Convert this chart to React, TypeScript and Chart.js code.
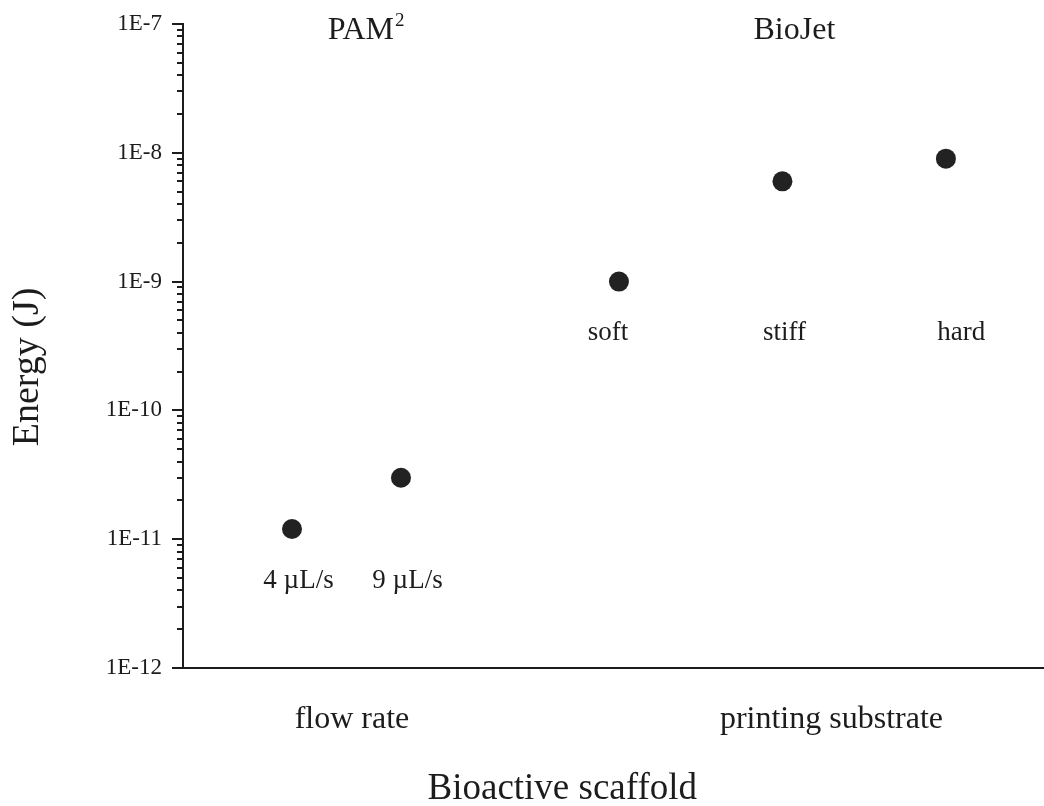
import React, { useEffect, useRef } from "react";
import { Chart, registerables } from "chart.js";

Chart.register(...registerables);

// ---- data ----
const pointNames = ["4 µL/s", "9 µL/s", "soft", "stiff", "hard"];
const pointX = [1, 2, 4, 5.5, 7];
const energyJ = [1.2e-11, 3e-11, 1e-9, 6e-9, 9e-9];
const pointLabelX = [1.06, 2.06, 3.9, 5.52, 7.14];
const pointLabelY = [4.2e-12, 4.2e-12, 3.5e-10, 3.5e-10, 3.5e-10];

const groupNames = ["PAM", "BioJet"];
const groupSup = ["2", ""];
const groupX = [1.68, 5.61];
const groupY = [7.6e-8, 7.6e-8];

const categoryNames = ["flow rate", "printing substrate"];
const categoryX = [1.55, 5.95];

const xTitle = "Bioactive scaffold";
const yTitle = "Energy (J)";
const yMinExp = -12;
const yMaxExp = -7;
const minorMantissas = [1, 2, 3, 4, 5, 6, 7, 8, 9];

const FONT = "'Liberation Serif', 'Times New Roman', serif";
const INK = "#1c1c1c";

const annotationPlugin = {
  id: "annotations",
  afterDraw(chart: any) {
    const { ctx, chartArea } = chart;
    const x = chart.scales.x;
    const y = chart.scales.y;
    ctx.save();

    // minor ticks
    ctx.strokeStyle = INK;
    ctx.lineWidth = 2;
    y.ticks.forEach((t: any) => {
      if (!t.major) {
        const py = Math.round(y.getPixelForValue(t.value));
        ctx.beginPath();
        ctx.moveTo(chartArea.left - 6, py);
        ctx.lineTo(chartArea.left, py);
        ctx.stroke();
      }
    });

    ctx.fillStyle = INK;
    ctx.textBaseline = "alphabetic";

    // point labels
    ctx.font = `27px ${FONT}`;
    ctx.textAlign = "center";
    pointNames.forEach((n, i) => {
      ctx.fillText(n, x.getPixelForValue(pointLabelX[i]), y.getPixelForValue(pointLabelY[i]));
    });

    // group titles
    groupNames.forEach((n, i) => {
      ctx.font = `32px ${FONT}`;
      const w1 = ctx.measureText(n).width;
      ctx.font = `19px ${FONT}`;
      const w2 = groupSup[i] ? ctx.measureText(groupSup[i]).width + 1 : 0;
      const cx = x.getPixelForValue(groupX[i]);
      const by = y.getPixelForValue(groupY[i]);
      const start = cx - (w1 + w2) / 2;
      ctx.textAlign = "left";
      ctx.font = `32px ${FONT}`;
      ctx.fillText(n, start, by);
      if (groupSup[i]) {
        ctx.font = `19px ${FONT}`;
        ctx.fillText(groupSup[i], start + w1 + 1, by - 13);
      }
    });

    // category labels below axis
    ctx.font = `32px ${FONT}`;
    ctx.textAlign = "center";
    categoryNames.forEach((n, i) => {
      ctx.fillText(n, x.getPixelForValue(categoryX[i]), chartArea.bottom + 60);
    });

    // x title
    ctx.font = `37px ${FONT}`;
    ctx.fillText(xTitle, x.getPixelForValue(3.48), chartArea.bottom + 131);

    // y title
    ctx.translate(28, (chartArea.top + chartArea.bottom) / 2 + 21);
    ctx.rotate(-Math.PI / 2);
    ctx.font = `38px ${FONT}`;
    ctx.textAlign = "center";
    ctx.textBaseline = "middle";
    ctx.fillText(yTitle, 0, 0);

    ctx.restore();
  },
};

export default function App() {
  const ref = useRef<HTMLCanvasElement | null>(null);

  useEffect(() => {
    if (!ref.current) return;
    const chart = new Chart(ref.current, {
      type: "scatter",
      data: {
        datasets: [
          {
            data: pointX.map((px, i) => ({ x: px, y: energyJ[i] })),
            backgroundColor: "#222222",
            borderWidth: 0,
            pointRadius: 10,
            pointHoverRadius: 10,
          },
        ],
      },
      options: {
        animation: false,
        responsive: true,
        maintainAspectRatio: false,
        layout: { autoPadding: false, padding: { top: 24, left: 0, right: 0, bottom: 0 } },
        plugins: { legend: { display: false }, tooltip: { enabled: false } },
        scales: {
          x: {
            type: "linear",
            min: 0,
            max: 7.9,
            ticks: { display: false },
            grid: { display: false },
            border: { display: true, width: 2, color: INK },
            afterFit: (s: any) => {
              s.height = 138;
            },
          },
          y: {
            type: "logarithmic",
            min: Math.pow(10, yMinExp),
            max: Math.pow(10, yMaxExp),
            afterBuildTicks: (s: any) => {
              const ticks: any[] = [];
              for (let e = yMinExp; e < yMaxExp; e++) {
                minorMantissas.forEach((m) => {
                  ticks.push({ value: parseFloat(`${m}e${e}`), major: m === 1 });
                });
              }
              ticks.push({ value: Math.pow(10, yMaxExp), major: true });
              s.ticks = ticks;
            },
            afterFit: (s: any) => {
              s.width = 183;
            },
            border: { display: true, width: 2, color: INK },
            grid: {
              display: true,
              drawOnChartArea: false,
              drawTicks: true,
              tickLength: 11,
              lineWidth: 2,
              color: (c: any) => (c.tick && c.tick.major ? INK : "rgba(0,0,0,0)"),
            },
            ticks: {
              autoSkip: false,
              padding: 10,
              color: INK,
              font: { family: FONT, size: 23 },
              callback: (v: any, i: number, ticks: any[]) => {
                if (!ticks[i] || !ticks[i].major) return "";
                const e = Math.round(Math.log10(Number(v)));
                return `1E${e}`;
              },
            },
          },
        },
      },
      plugins: [annotationPlugin],
    } as any);
    return () => chart.destroy();
  }, []);

  return (
    <div style={{ position: "absolute", left: 0, top: 0, width: 1044, height: 806, background: "#fff" }}>
      <canvas ref={ref} />
    </div>
  );
}
